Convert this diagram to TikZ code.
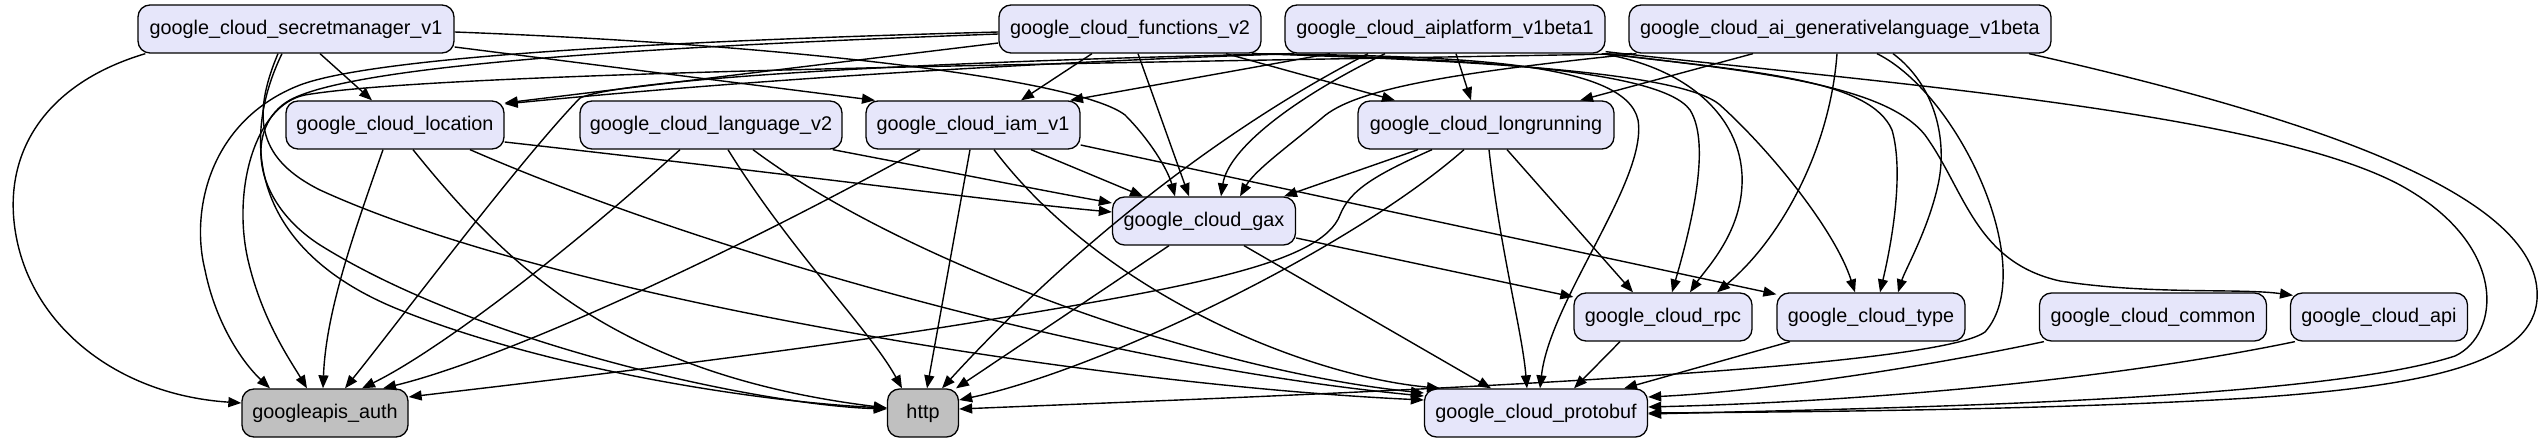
\documentclass[tikz,border=0pt]{standalone}
\usepackage{fontspec}
\setmainfont{Liberation Sans}
\usetikzlibrary{arrows.meta}
\definecolor{lav}{HTML}{E6E6FA}
\definecolor{gfill}{HTML}{C0C0C0}
\begin{document}
\begin{tikzpicture}[x=1pt,y=-1pt,
  pkg/.style={draw=black, line width=1.3pt, fill=lav, rounded corners=12pt,
    minimum height=48pt, inner xsep=0pt, inner ysep=0pt,
    font=\fontsize{19.8pt}{23pt}\selectfont},
  ext/.style={pkg, fill=gfill},
  dep/.style={line width=1.4pt, -{Triangle[length=13pt,width=10pt]}}]
\useasboundingbox (0,0) rectangle (2543,443);
% row 1
\node[pkg, minimum width=316pt] (sm) at (296,29) {google\_cloud\_secretmanager\_v1};
\node[pkg, minimum width=262pt] (fn) at (1130,29) {google\_cloud\_functions\_v2};
\node[pkg, minimum width=320pt] (aip) at (1445,29) {google\_cloud\_aiplatform\_v1beta1};
\node[pkg, minimum width=422pt] (gl) at (1840,29) {google\_cloud\_ai\_generativelanguage\_v1beta};
% row 2
\node[pkg, minimum width=218pt] (loc) at (395,125) {google\_cloud\_location};
\node[pkg, minimum width=262pt] (lang) at (711,125) {google\_cloud\_language\_v2};
\node[pkg, minimum width=214pt] (iam) at (973,125) {google\_cloud\_iam\_v1};
\node[pkg, minimum width=256pt] (lr) at (1486,125) {google\_cloud\_longrunning};
% row 3
\node[pkg, minimum width=183pt] (gax) at (1204,221) {google\_cloud\_gax};
% row 4
\node[pkg, minimum width=178pt] (rpc) at (1663,317) {google\_cloud\_rpc};
\node[pkg, minimum width=188pt] (type) at (1871,317) {google\_cloud\_type};
\node[pkg, minimum width=227pt] (common) at (2153,317) {google\_cloud\_common};
\node[pkg, minimum width=177pt] (api) at (2379,317) {google\_cloud\_api};
% row 5
\node[ext, minimum width=166pt] (auth) at (325,413) {googleapis\_auth};
\node[ext, minimum width=71pt] (http) at (923,413) {http};
\node[pkg, minimum width=223pt] (pb) at (1536,413) {google\_cloud\_protobuf};

% secretmanager
\draw[dep] ([xshift=8pt]sm.south west) .. controls (40,85) and (-2,160) .. (18,245) .. controls (38,330) and (120,395) .. ([yshift=10pt]auth.west);
\draw[dep] ([xshift=-14pt]sm.south) .. controls (240,140) and (250,250) .. (400,310) .. controls (550,370) and (760,402) .. ([yshift=5pt]http.west);
\draw[dep] ([xshift=-18pt]sm.south) .. controls (250,120) and (260,160) .. (320,190) .. controls (560,300) and (1100,385) .. ([yshift=13pt]pb.west);
\draw[dep] ([xshift=24pt]sm.south) -- ([xshift=-23pt]loc.north);
\draw[dep] ([yshift=-18pt]sm.east) -- ([xshift=-98pt]iam.north);
\draw[dep] ([yshift=-3pt]sm.east) .. controls (800,45) and (1080,80) .. (1125,115) .. controls (1150,140) and (1168,170) .. ([xshift=-29pt]gax.north);

% functions
\draw[dep] ([yshift=-14pt]fn.west) -- ([yshift=22pt]loc.east);
\draw[dep] ([xshift=-38pt]fn.south) -- ([xshift=48pt]iam.north);
\draw[dep] ([xshift=8pt]fn.south) -- ([xshift=-15pt]gax.north);
\draw[dep] ([xshift=96pt]fn.south) -- ([xshift=-91pt]lr.north);
\draw[dep] ([xshift=-10pt]fn.south east) .. controls (1450,56) and (1625,60) .. (1638,120) .. controls (1648,180) and (1550,300) .. ([xshift=4pt]pb.north);
\draw[dep] ([xshift=-8pt]fn.south east) .. controls (1450,58) and (1660,68) .. (1690,110) .. controls (1712,145) and (1690,230) .. ([xshift=9pt]rpc.north);
\draw[dep] ([xshift=-6pt]fn.south east) .. controls (1450,60) and (1680,70) .. (1720,105) .. controls (1770,150) and (1835,230) .. ([xshift=-16pt]type.north);
\draw[dep] ([yshift=-3pt]fn.west) .. controls (700,40) and (380,55) .. (300,85) .. controls (210,120) and (190,210) .. (205,270) .. controls (215,320) and (240,360) .. ([xshift=-55pt]auth.north);
\draw[dep] ([yshift=-5pt]fn.west) .. controls (700,45) and (360,62) .. (290,100) .. controls (245,125) and (250,200) .. (320,245) .. controls (480,345) and (760,405) .. ([yshift=4pt]http.west);

% aiplatform
\draw[dep] ([xshift=10pt]aip.south west) .. controls (1100,60) and (800,75) .. ([yshift=21pt]loc.east);
\draw[dep] ([xshift=-115pt]aip.south) -- ([xshift=97pt]iam.north);
\draw[dep] ([xshift=-60pt]aip.south) .. controls (1290,100) and (1228,150) .. ([xshift=17pt]gax.north);
\draw[dep] ([xshift=-77pt]aip.south) .. controls (1200,140) and (1050,270) .. ([xshift=19pt]http.north);
\draw[dep] ([xshift=11pt]aip.south) -- ([xshift=-15pt]lr.north);
\draw[dep] ([xshift=6pt]aip.south west) .. controls (900,62) and (620,80) .. (580,98) .. controls (520,160) and (400,320) .. ([xshift=20pt]auth.north);
\draw[dep] ([xshift=-4pt]aip.south east) .. controls (1690,68) and (1745,120) .. (1742,185) .. controls (1740,235) and (1705,270) .. ([xshift=27pt]rpc.north);
\draw[dep] ([xshift=-2pt]aip.south east) .. controls (1760,72) and (1870,80) .. (1892,130) .. controls (1905,175) and (1890,250) .. ([xshift=9pt]type.north);
\draw[dep] (aip.south east) .. controls (1760,72) and (1885,85) .. (1925,135) .. controls (1965,190) and (1975,262) .. (2060,281) .. controls (2150,295) and (2240,288) .. ([xshift=-86pt,yshift=-3pt]api.north);
\draw[dep] ([yshift=2pt]aip.south east) .. controls (1850,80) and (2260,110) .. (2400,185) .. controls (2510,245) and (2500,335) .. (2455,356) .. controls (2320,400) and (1900,408) .. ([yshift=-1pt]pb.east);

% generativelanguage
\draw[dep] ([xshift=-87pt]gl.south) -- ([xshift=94pt]lr.north);
\draw[dep] ([xshift=8pt]gl.south west) .. controls (1460,72) and (1355,88) .. (1322,118) .. controls (1290,145) and (1255,170) .. ([xshift=36pt]gax.north);
\draw[dep] ([xshift=-3pt]gl.south) .. controls (1830,150) and (1780,240) .. ([xshift=54pt]rpc.north);
\draw[dep] ([xshift=53pt]gl.south) .. controls (1935,85) and (1948,140) .. (1938,185) .. controls (1928,230) and (1905,270) .. ([xshift=27pt]type.north);
\draw[dep] ([xshift=37pt]gl.south) .. controls (1960,95) and (2040,270) .. (1985,332) .. controls (1930,372) and (1300,395) .. ([yshift=4pt]http.east);
\draw[dep] ([xshift=189pt]gl.south) .. controls (2300,115) and (2530,190) .. (2537,290) .. controls (2542,360) and (2440,385) .. (2250,398) .. controls (2050,410) and (1800,412) .. (pb.east);
\draw[dep] ([xshift=4pt]gl.south west) .. controls (1200,62) and (450,70) .. (305,95) .. controls (255,105) and (232,190) .. (248,260) .. controls (262,320) and (290,360) .. ([xshift=-18pt]auth.north);

% location
\draw[dep] ([xshift=-12pt]loc.south) .. controls (355,230) and (326,310) .. ([xshift=-2pt]auth.north);
\draw[dep] ([xshift=18pt]loc.south) .. controls (510,270) and (620,375) .. ([yshift=5pt]http.west);
\draw[dep] ([xshift=75pt]loc.south) .. controls (700,250) and (1100,365) .. ([yshift=17pt]pb.west);
\draw[dep] ([yshift=-17pt]loc.east) .. controls (800,175) and (1000,202) .. ([yshift=9pt]gax.west);

% language
\draw[dep] ([xshift=-31pt]lang.south) .. controls (570,250) and (440,350) .. ([xshift=37pt]auth.north);
\draw[dep] ([xshift=17pt]lang.south) .. controls (790,250) and (870,330) .. ([xshift=-21pt]http.north);
\draw[dep] ([xshift=42pt]lang.south) .. controls (900,260) and (1200,370) .. ([yshift=20pt]pb.west);
\draw[dep] ([xshift=-10pt]lang.south east) .. controls (950,172) and (1050,192) .. ([yshift=18pt]gax.west);

% iam
\draw[dep] ([xshift=-53pt]iam.south) .. controls (720,260) and (500,360) .. ([xshift=58pt]auth.north);
\draw[dep] ([xshift=-3pt]iam.south) -- ([xshift=4pt]http.north);
\draw[dep] ([xshift=21pt]iam.south) .. controls (1100,290) and (1300,375) .. ([xshift=-96pt]pb.north);
\draw[dep] ([xshift=58pt]iam.south) -- ([xshift=-61pt]gax.north);
\draw[dep] ([yshift=-20pt]iam.east) -- ([yshift=-2pt]type.north west);

% longrunning
\draw[dep] ([xshift=-68pt]lr.south) -- ([xshift=80pt]gax.north);
\draw[dep] ([xshift=-54pt]lr.south) .. controls (1375,175) and (1350,190) .. (1340,215) .. controls (1322,262) and (1200,285) .. (1000,318) .. controls (800,352) and (500,386) .. ([yshift=16pt]auth.east);
\draw[dep] ([xshift=-22pt]lr.south) .. controls (1350,250) and (1100,370) .. ([yshift=13pt]http.east);
\draw[dep] ([xshift=3pt]lr.south) .. controls (1500,250) and (1522,330) .. ([xshift=-9pt]pb.north);
\draw[dep] ([xshift=21pt]lr.south) -- ([xshift=-30pt]rpc.north);

% gax
\draw[dep] ([xshift=-35pt]gax.south) -- ([xshift=33pt]http.north);
\draw[dep] ([xshift=40pt]gax.south) -- ([xshift=-45pt]pb.north);
\draw[dep] ([yshift=-17pt]gax.east) -- ([yshift=20pt]rpc.west);

% row 4
\draw[dep] ([xshift=-43pt]rpc.south) -- ([xshift=38pt]pb.north);
\draw[dep] ([xshift=-81pt]type.south) -- ([xshift=88pt]pb.north);
\draw[dep] ([xshift=5pt]common.south west) .. controls (1900,372) and (1750,392) .. ([yshift=16pt]pb.east);
\draw[dep] ([xshift=5pt]api.south west) .. controls (2100,382) and (1850,402) .. ([yshift=6pt]pb.east);
\end{tikzpicture}
\end{document}
